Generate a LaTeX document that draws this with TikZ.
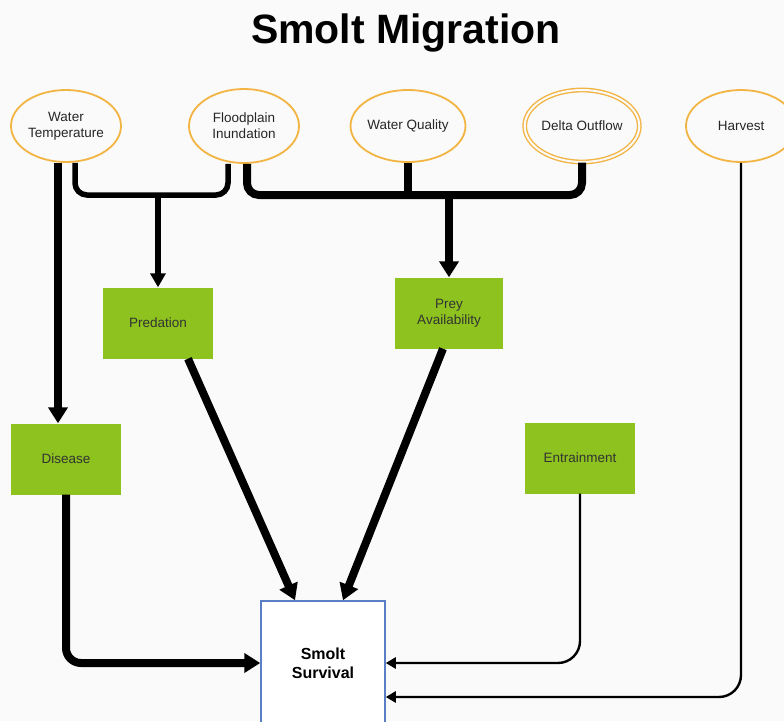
\documentclass[tikz,border=0pt]{standalone}
\usepackage{fontspec}
\setmainfont{Liberation Sans}
\usetikzlibrary{arrows.meta,shapes.geometric}
\definecolor{amber}{HTML}{F2B443}
\definecolor{leaf}{HTML}{8DC21F}
\definecolor{boxblue}{HTML}{5B7FC7}
\definecolor{paper}{HTML}{FAFAFA}
\begin{document}
\begin{tikzpicture}[x=1pt,y=-1pt,
	factor/.style={ellipse,draw=amber,line width=1.8pt,fill=paper,minimum width=110pt,minimum height=72pt,inner sep=0pt,align=center,text=black!85,font=\fontsize{13.5}{16}\selectfont},
	effect/.style={rectangle,fill=leaf,minimum width=110pt,minimum height=71pt,inner sep=0pt,align=center,text=black!80,font=\fontsize{13.5}{16}\selectfont},
	heavy/.style={line width=8pt,rounded corners=12pt},
	medium/.style={line width=5.5pt,rounded corners=12pt},
	slim/.style={line width=2.4pt,rounded corners=22pt},
	bigtip/.style={-{Triangle[length=16pt,width=19pt]}},
	midtip/.style={-{Triangle[length=14pt,width=15pt]}},
	smalltip/.style={-{Triangle[length=10pt,width=11pt]}}]
	\useasboundingbox (0,0) rectangle (784,721);
	\fill[paper] (0,0) rectangle (784,721);
	\node[font=\fontsize{41}{48}\selectfont\bfseries,anchor=base] (title) at (406,43) {Smolt Migration};
	\node[factor] (wt) at (66,126) {Water\\Temperature};
	\node[factor,minimum height=74pt] (fi) at (244,126) {Floodplain\\Inundation};
	\node[factor,minimum width=108pt] (wq) at (408,126) {Water Quality};
	\node[factor,double=paper,double distance=2pt,line width=1.4pt] (do) at (582,126) {Delta Outflow};
	\node[factor] (hv) at (741,126) {Harvest};
	\node[effect] (pred) at (158,323) {Predation};
	\node[effect,minimum width=108pt] (prey) at (449,313) {Prey\\Availability};
	\node[effect] (dis) at (66,459) {Disease};
	\node[effect] (ent) at (580,458) {Entrainment};
	\node[draw=boxblue,line width=1.5pt,fill=white,minimum width=124pt,minimum height=124pt,inner sep=0pt,align=center,font=\fontsize{16}{19}\selectfont\bfseries] (smolt) at (323,663) {Smolt\\Survival};
	\coordinate (j1) at (158,195);
	\coordinate (j2) at (449,195);
	\draw[medium] ([xshift=9pt]wt.south) |- (j1) -| ([xshift=-16pt]fi.south);
	\draw[medium,midtip] (j1) -- (pred.north);
	\draw[heavy] ([xshift=3pt]fi.south) |- (j2) -| (do.south);
	\draw[heavy] (wq.south) -- (wq.south |- j2);
	\draw[heavy,bigtip] (j2) -- (prey.north);
	\draw[heavy,bigtip] ([xshift=-8pt]wt.south) -- ([xshift=-8pt]dis.north);
	\draw[heavy,bigtip] ([xshift=30pt]pred.south) -- ([xshift=-28pt]smolt.north);
	\draw[heavy,bigtip] ([xshift=-6pt]prey.south) -- ([xshift=20pt]smolt.north);
	\draw[heavy,bigtip,rounded corners=15pt] (dis.south) |- (smolt.west);
	\draw[slim,smalltip] (ent.south) |- (smolt.east);
	\draw[slim,smalltip] (hv.south) |- ([yshift=-34pt]smolt.east);
\end{tikzpicture}
\end{document}
